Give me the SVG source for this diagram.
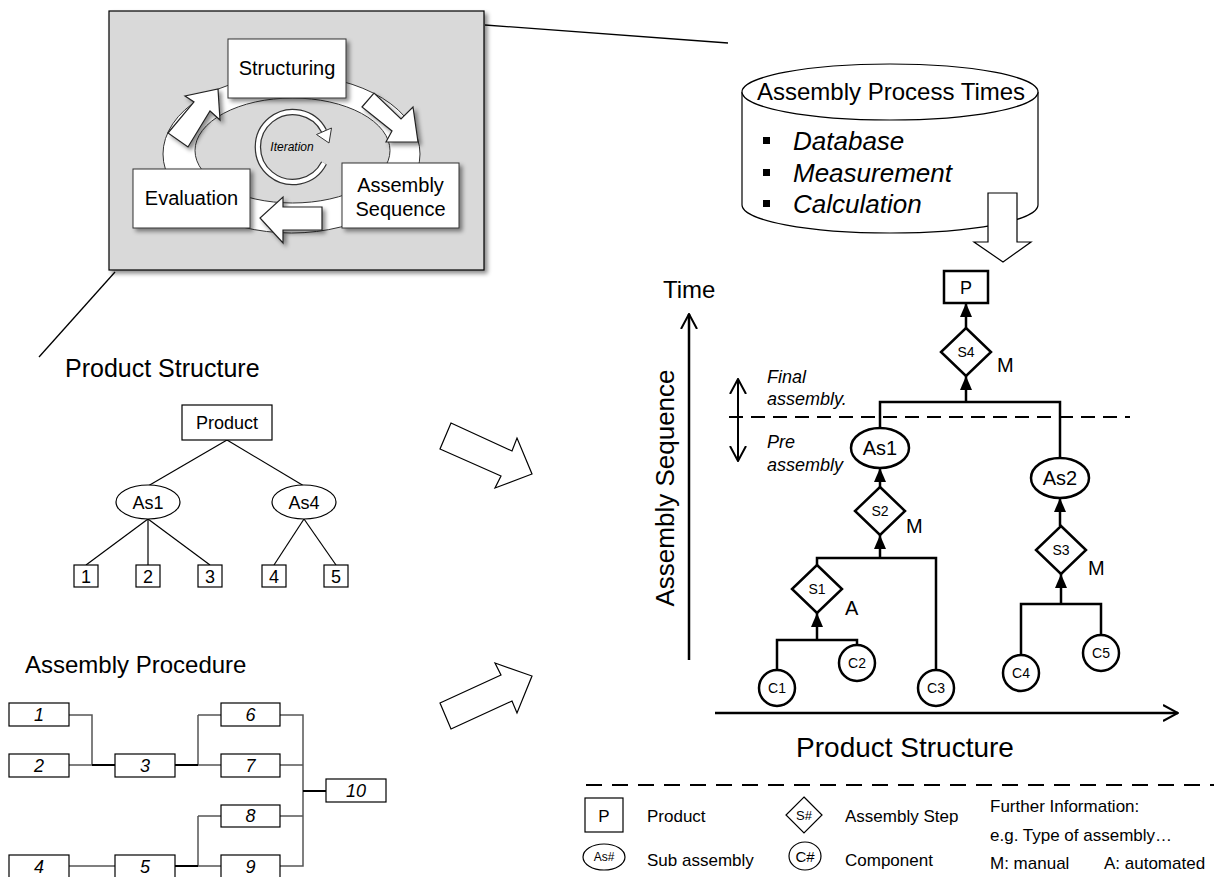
<svg xmlns="http://www.w3.org/2000/svg" width="1214" height="877" viewBox="0 0 1214 877">
<defs>
  <style>
    text { font-family: "Liberation Sans", Arial, sans-serif; fill: #000; }
    .c { text-anchor: middle; }
    .it { font-style: italic; }
    .box { fill: #fff; stroke: #000; stroke-width: 1.2; }
    .pbox { fill: #fff; stroke: #333; stroke-width: 1; }
    .tline { fill: none; stroke: #000; stroke-width: 1.2; }
    .conn { fill: none; stroke: #000; stroke-width: 2.5; }
    .node { fill: #fff; stroke: #000; stroke-width: 2.5; }
    .gline { fill: none; stroke: #555; stroke-width: 1.5; }
    .kline { fill: none; stroke: #000; stroke-width: 2; }
    .blk { fill: #fff; stroke: #222; stroke-width: 1.2; }
    .lg { font-size: 17px; }
  </style>
  <filter id="shadow" x="-20%" y="-20%" width="150%" height="150%">
    <feDropShadow dx="3" dy="3" stdDeviation="2" flood-color="#000" flood-opacity="0.45"/>
  </filter>
  <marker id="tri" viewBox="0 0 14 12" refX="14" refY="6" markerWidth="14" markerHeight="12" markerUnits="userSpaceOnUse" orient="auto">
    <path d="M0,0 L14,6 L0,12 z" fill="#000"/>
  </marker>
  <marker id="open" viewBox="0 0 16 18" refX="15" refY="9" markerWidth="16" markerHeight="18" markerUnits="userSpaceOnUse" orient="auto">
    <path d="M0,1 L15,9 L0,17" fill="none" stroke="#000" stroke-width="2"/>
  </marker>
</defs>

<rect width="1214" height="877" fill="#fff"/>

<!-- Iteration cycle panel -->
<g id="process-panel">
  <rect x="109" y="11" width="375" height="259" fill="#d9d9d9" stroke="#000" stroke-width="1.2" filter="url(#shadow)"/>
  <ellipse cx="291.5" cy="154" rx="128.5" ry="79" fill="#fff" stroke="#333" stroke-width="1"/>
  <ellipse cx="292.5" cy="150.5" rx="97.5" ry="52.5" fill="#d9d9d9" stroke="#333" stroke-width="1"/>
  <!-- iteration loop -->
  <g id="iteration">
    <path d="M324,163 A35,35 0 1 1 324,131" fill="none" stroke="#333" stroke-width="6.5"/>
    <path d="M324,163 A35,35 0 1 1 324,131" fill="none" stroke="#fff" stroke-width="4"/>
    <polygon points="331.5,128 316.5,134.5 329,143" fill="#fff" stroke="#333" stroke-width="1"/>
    <text x="292" y="151" class="c it" font-size="12">Iteration</text>
  </g>
  <!-- cycle arrows -->
  <polygon class="blk" filter="url(#shadow)" points="168,133 194,102 185,96 218,89 220,120 210,111 188,147"/>
  <polygon class="blk" filter="url(#shadow)" points="362,107 374,93 401,119 413,107 418,142 386,142 392,131"/>
  <polygon class="blk" filter="url(#shadow)" points="322,207 283,207 283,197 260,218 283,243 283,230 322,230"/>
  <g id="structuring">
    <rect x="228" y="39" width="118" height="59" class="pbox" filter="url(#shadow)"/>
    <text x="287" y="75" class="c" font-size="20">Structuring</text>
  </g>
  <g id="evaluation">
    <rect x="133" y="169" width="117" height="59" class="pbox" filter="url(#shadow)"/>
    <text x="191.5" y="205" class="c" font-size="20">Evaluation</text>
  </g>
  <g id="assembly-sequence">
    <rect x="342" y="163" width="117" height="65" class="pbox" filter="url(#shadow)"/>
    <text x="400.5" y="192" class="c" font-size="20">Assembly</text>
    <text x="400.5" y="216" class="c" font-size="20">Sequence</text>
  </g>
</g>

<!-- detail lines from the panel -->
<g id="detail-lines" stroke="#000" stroke-width="1.3">
  <line x1="485" y1="25" x2="728" y2="43"/>
  <line x1="115" y1="272" x2="39" y2="357"/>
</g>

<!-- Process time sources -->
<g id="process-times">
  <path d="M742,92 V205 A148,28 0 0 0 1038,205 V92" fill="#fff" stroke="#000" stroke-width="1.2"/>
  <ellipse cx="890" cy="92" rx="148" ry="28" fill="#fff" stroke="#000" stroke-width="1.2"/>
  <text x="757" y="100" font-size="24">Assembly Process Times</text>
  <rect x="763" y="137" width="7" height="7" fill="#000"/>
  <rect x="763" y="169" width="7" height="7" fill="#000"/>
  <rect x="763" y="200" width="7" height="7" fill="#000"/>
  <text x="793" y="150" class="it" font-size="26">Database</text>
  <text x="793" y="182" class="it" font-size="26">Measurement</text>
  <text x="793" y="213" class="it" font-size="26">Calculation</text>
  <polygon points="988,193 1017,193 1017,242 1031,242 1003,262 974,242 988,242" fill="#fff" stroke="#000" stroke-width="1.2"/>
</g>

<!-- Product structure tree -->
<g id="product-structure">
  <text x="65" y="377" font-size="25">Product Structure</text>
  <g class="tline">
    <line x1="227" y1="440" x2="148" y2="486"/>
    <line x1="227" y1="440" x2="304" y2="486"/>
    <line x1="148" y1="519" x2="86" y2="565"/>
    <line x1="148" y1="519" x2="148" y2="565"/>
    <line x1="148" y1="519" x2="210" y2="565"/>
    <line x1="304" y1="519" x2="274" y2="565"/>
    <line x1="304" y1="519" x2="336" y2="565"/>
  </g>
  <g id="ps-product"><rect x="182" y="405" width="90" height="35" class="box"/><text x="227" y="429" class="c" font-size="18">Product</text></g>
  <g id="ps-as1"><ellipse cx="148" cy="502" rx="32" ry="17" class="box"/><text x="148" y="509" class="c" font-size="18">As1</text></g>
  <g id="ps-as4"><ellipse cx="304" cy="502" rx="32" ry="17" class="box"/><text x="304" y="509" class="c" font-size="18">As4</text></g>
  <g id="ps-1"><rect x="74" y="565" width="24" height="22" class="box"/><text x="86" y="583" class="c" font-size="18">1</text></g>
  <g id="ps-2"><rect x="136" y="565" width="24" height="22" class="box"/><text x="148" y="583" class="c" font-size="18">2</text></g>
  <g id="ps-3"><rect x="198" y="565" width="24" height="22" class="box"/><text x="210" y="583" class="c" font-size="18">3</text></g>
  <g id="ps-4"><rect x="262" y="565" width="24" height="22" class="box"/><text x="274" y="583" class="c" font-size="18">4</text></g>
  <g id="ps-5"><rect x="324" y="565" width="24" height="22" class="box"/><text x="336" y="583" class="c" font-size="18">5</text></g>
</g>

<!-- Assembly procedure -->
<g id="assembly-procedure">
  <text x="25" y="673" font-size="24">Assembly Procedure</text>
  <g class="gline">
    <polyline points="69,715 92,715 92,765"/>
    <polyline points="69,765 92,765"/>
    <polyline points="198,715 198,765"/>
    <polyline points="198,715 221,715"/>
    <polyline points="198,765 221,765"/>
    <polyline points="280,715 303,715 303,866 280,866"/>
    <polyline points="280,765 303,765"/>
    <polyline points="280,816 303,816"/>
    <polyline points="69,866 115,866"/>
    <polyline points="198,816 198,866"/>
    <polyline points="198,816 221,816"/>
    <polyline points="198,866 221,866"/>
  </g>
  <g class="kline">
    <line x1="92" y1="765" x2="115" y2="765"/>
    <line x1="175" y1="765" x2="198" y2="765"/>
    <line x1="303" y1="791" x2="326" y2="791"/>
    <line x1="175" y1="866" x2="198" y2="866"/>
  </g>
  <g id="ap-1"><rect x="9" y="703" width="60" height="23" class="box"/><text x="39" y="721" class="c it" font-size="18">1</text></g>
  <g id="ap-2"><rect x="9" y="754" width="60" height="23" class="box"/><text x="39" y="772" class="c it" font-size="18">2</text></g>
  <g id="ap-3"><rect x="115" y="754" width="60" height="23" class="box"/><text x="145" y="772" class="c it" font-size="18">3</text></g>
  <g id="ap-4"><rect x="9" y="855" width="60" height="23" class="box"/><text x="39" y="873" class="c it" font-size="18">4</text></g>
  <g id="ap-5"><rect x="115" y="855" width="60" height="23" class="box"/><text x="145" y="873" class="c it" font-size="18">5</text></g>
  <g id="ap-6"><rect x="221" y="703" width="59" height="23" class="box"/><text x="250.5" y="721" class="c it" font-size="18">6</text></g>
  <g id="ap-7"><rect x="221" y="754" width="59" height="23" class="box"/><text x="250.5" y="772" class="c it" font-size="18">7</text></g>
  <g id="ap-8"><rect x="221" y="805" width="59" height="22" class="box"/><text x="250.5" y="822" class="c it" font-size="18">8</text></g>
  <g id="ap-9"><rect x="221" y="855" width="59" height="23" class="box"/><text x="250.5" y="873" class="c it" font-size="18">9</text></g>
  <g id="ap-10"><rect x="326" y="779" width="60" height="23" class="box"/><text x="356" y="797" class="c it" font-size="18">10</text></g>
</g>

<!-- transfer arrows -->
<g id="transfer-arrows">
  <polygon points="451,423 512,451 517,438 532,474 495,488 501,476 440,449" fill="#fff" stroke="#000" stroke-width="1.2"/>
  <polygon points="440,703 501,675 495,663 532,676 517,713 512,701 451,729" fill="#fff" stroke="#000" stroke-width="1.2"/>
</g>

<!-- axes and phase markers -->
<g id="axes">
  <line x1="689" y1="660" x2="689" y2="314" class="conn" marker-end="url(#open)"/>
  <line x1="715" y1="713" x2="1178" y2="713" class="conn" marker-end="url(#open)"/>
  <text x="663" y="298" font-size="24">Time</text>
  <text transform="translate(674,488) rotate(-90)" class="c" font-size="26">Assembly Sequence</text>
  <text x="905" y="757" class="c" font-size="28">Product Structure</text>
  <line x1="729" y1="417" x2="1130" y2="417" stroke="#000" stroke-width="2" stroke-dasharray="14 8"/>
  <line x1="738" y1="400" x2="738" y2="379" stroke="#000" stroke-width="2" marker-end="url(#open)"/>
  <line x1="738" y1="400" x2="738" y2="461" stroke="#000" stroke-width="2" marker-end="url(#open)"/>
  <text x="767" y="383" class="it" font-size="18">Final</text>
  <text x="767" y="405" class="it" font-size="18">assembly.</text>
  <text x="767" y="448" class="it" font-size="18">Pre</text>
  <text x="767" y="471" class="it" font-size="18">assembly</text>
</g>

<!-- assembly sequence connectors -->
<g id="connectors">
  <line x1="966" y1="328" x2="966" y2="303" class="conn" marker-end="url(#tri)"/>
  <line x1="966" y1="402" x2="966" y2="376" class="conn" marker-end="url(#tri)"/>
  <polyline points="880,428 880,402 1060,402 1060,458" class="conn"/>
  <line x1="880" y1="487" x2="880" y2="468" class="conn" marker-end="url(#tri)"/>
  <line x1="880" y1="558" x2="880" y2="535" class="conn" marker-end="url(#tri)"/>
  <polyline points="817,565 817,558 936,558 936,670" class="conn"/>
  <line x1="817" y1="640" x2="817" y2="613" class="conn" marker-end="url(#tri)"/>
  <polyline points="777,670 777,640 857,640 857,645" class="conn"/>
  <line x1="1060" y1="526" x2="1060" y2="498" class="conn" marker-end="url(#tri)"/>
  <line x1="1061" y1="604" x2="1061" y2="574" class="conn" marker-end="url(#tri)"/>
  <polyline points="1021,655 1021,604 1101,604 1101,635" class="conn"/>
</g>

<g id="node-p"><rect x="944" y="271" width="44" height="32" class="node"/><text x="966" y="294" class="c" font-size="18">P</text></g>
<g id="node-s4"><polygon points="966,328 991,352 966,376 941,352" class="node"/><text x="966" y="357" class="c" font-size="14">S4</text><text x="997" y="372" font-size="20">M</text></g>
<g id="node-as1"><ellipse cx="880" cy="448" rx="29" ry="20" class="node"/><text x="880" y="455" class="c" font-size="20">As1</text></g>
<g id="node-as2"><ellipse cx="1060" cy="478" rx="29" ry="20" class="node"/><text x="1060" y="485" class="c" font-size="20">As2</text></g>
<g id="node-s2"><polygon points="880,487 905,511 880,535 855,511" class="node"/><text x="880" y="516" class="c" font-size="14">S2</text><text x="906" y="533" font-size="20">M</text></g>
<g id="node-s1"><polygon points="817,565 842,589 817,613 792,589" class="node"/><text x="817" y="594" class="c" font-size="14">S1</text><text x="845" y="615" font-size="20">A</text></g>
<g id="node-s3"><polygon points="1061,526 1086,550 1061,574 1036,550" class="node"/><text x="1061" y="555" class="c" font-size="14">S3</text><text x="1088" y="575" font-size="20">M</text></g>
<g id="node-c1"><circle cx="777" cy="688" r="18" class="node"/><text x="777" y="693" class="c" font-size="14">C1</text></g>
<g id="node-c2"><circle cx="857" cy="663" r="18" class="node"/><text x="857" y="668" class="c" font-size="14">C2</text></g>
<g id="node-c3"><circle cx="936" cy="688" r="18" class="node"/><text x="936" y="693" class="c" font-size="14">C3</text></g>
<g id="node-c4"><circle cx="1021" cy="673" r="18" class="node"/><text x="1021" y="678" class="c" font-size="14">C4</text></g>
<g id="node-c5"><circle cx="1101" cy="653" r="18" class="node"/><text x="1101" y="658" class="c" font-size="14">C5</text></g>

<!-- legend -->
<g id="legend">
  <line x1="586" y1="785" x2="1214" y2="785" stroke="#000" stroke-width="2" stroke-dasharray="16 10"/>
  <rect x="585" y="798" width="38" height="34" fill="#fff" stroke="#000" stroke-width="1.2"/>
  <text x="604" y="822" class="c" font-size="17">P</text>
  <text x="647" y="822" class="lg">Product</text>
  <polygon points="804,797 822,815 804,833 786,815" fill="#fff" stroke="#000" stroke-width="1.2"/>
  <text x="804" y="820" class="c" font-size="13">S#</text>
  <text x="845" y="822" class="lg">Assembly Step</text>
  <ellipse cx="604" cy="857" rx="21" ry="13" fill="#fff" stroke="#000" stroke-width="1.2"/>
  <text x="604" y="861" class="c" font-size="12">As#</text>
  <text x="647" y="866" class="lg">Sub assembly</text>
  <ellipse cx="805" cy="856" rx="16" ry="14" fill="#fff" stroke="#000" stroke-width="1.2"/>
  <text x="805" y="862" class="c" font-size="15">C#</text>
  <text x="845" y="866" class="lg">Component</text>
  <text x="990" y="812" class="lg">Further Information:</text>
  <text x="990" y="841" class="lg">e.g. Type of assembly…</text>
  <text x="990" y="869" class="lg">M: manual</text>
  <text x="1104" y="869" class="lg">A: automated</text>
</g>
</svg>
